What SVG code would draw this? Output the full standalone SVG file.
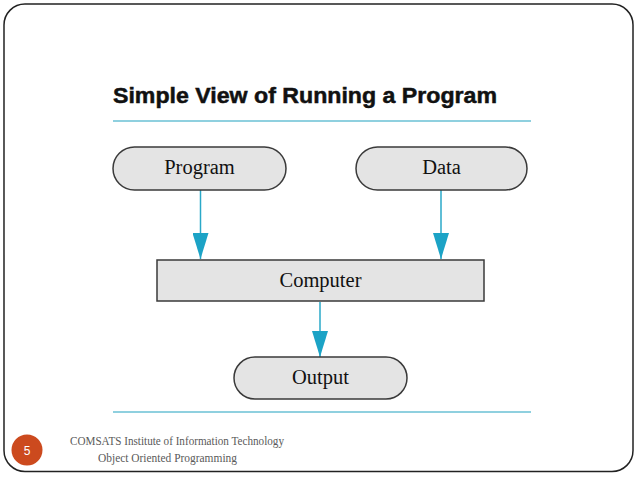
<svg xmlns="http://www.w3.org/2000/svg" width="638" height="479" viewBox="0 0 638 479">
<defs>
<style>
.node{fill:#e4e4e4;stroke:#3a3a3a;stroke-width:1.5}
.lbl{font-family:"Liberation Serif","Times New Roman",serif;font-size:20.5px;fill:#111;text-anchor:middle}
.conn{stroke:#2aa8c8;stroke-width:1.5;fill:none}
.rule{stroke:#8fd0df;stroke-width:2}
.foot{font-family:"Liberation Serif","Times New Roman",serif;font-size:11.5px;fill:#5a5a5a}
</style>
<marker id="ah" viewBox="0 0 26 16" refX="26" refY="8" markerWidth="26" markerHeight="16" markerUnits="userSpaceOnUse" orient="auto">
<path d="M0,0 L26,8 L0,16 Z" fill="#1ca3c6"/>
</marker>
</defs>
<rect x="4" y="4" width="629" height="467.5" rx="21" ry="21" fill="#fff" stroke="#222" stroke-width="1.5"/>
<text x="113" y="103" font-family="'Liberation Sans',Arial,sans-serif" font-weight="bold" font-size="22" fill="#111" stroke="#111" stroke-width="0.5" textLength="384" lengthAdjust="spacingAndGlyphs">Simple View of Running a Program</text>
<line class="rule" x1="113" y1="121" x2="531" y2="121"/>
<line class="rule" x1="113" y1="412" x2="531" y2="412"/>
<g id="connectors">
<line class="conn" x1="200.5" y1="190" x2="200.5" y2="259" marker-end="url(#ah)"/>
<line class="conn" x1="441" y1="190" x2="441" y2="259" marker-end="url(#ah)"/>
<line class="conn" x1="320" y1="302" x2="320" y2="357" marker-end="url(#ah)"/>
</g>
<g id="program">
<rect class="node" x="113" y="147" width="173" height="43" rx="21.5"/>
<text class="lbl" x="199.5" y="174">Program</text>
</g>
<g id="data">
<rect class="node" x="356" y="147" width="171" height="43" rx="21.5"/>
<text class="lbl" x="441.5" y="174">Data</text>
</g>
<g id="computer">
<rect class="node" x="157" y="260" width="327" height="41"/>
<text class="lbl" x="320.5" y="287">Computer</text>
</g>
<g id="output">
<rect class="node" x="234" y="357" width="173" height="42" rx="21"/>
<text class="lbl" x="320.5" y="384">Output</text>
</g>
<g id="footer">
<circle cx="27" cy="450" r="15.5" fill="#cc4a1e"/>
<text x="27" y="454.5" font-family="'Liberation Sans',Arial,sans-serif" font-size="12" fill="#fff" text-anchor="middle">5</text>
<text class="foot" x="70" y="445" textLength="214" lengthAdjust="spacingAndGlyphs">COMSATS Institute of Information Technology</text>
<text class="foot" x="98" y="462" textLength="139" lengthAdjust="spacingAndGlyphs">Object Oriented Programming</text>
</g>
</svg>
